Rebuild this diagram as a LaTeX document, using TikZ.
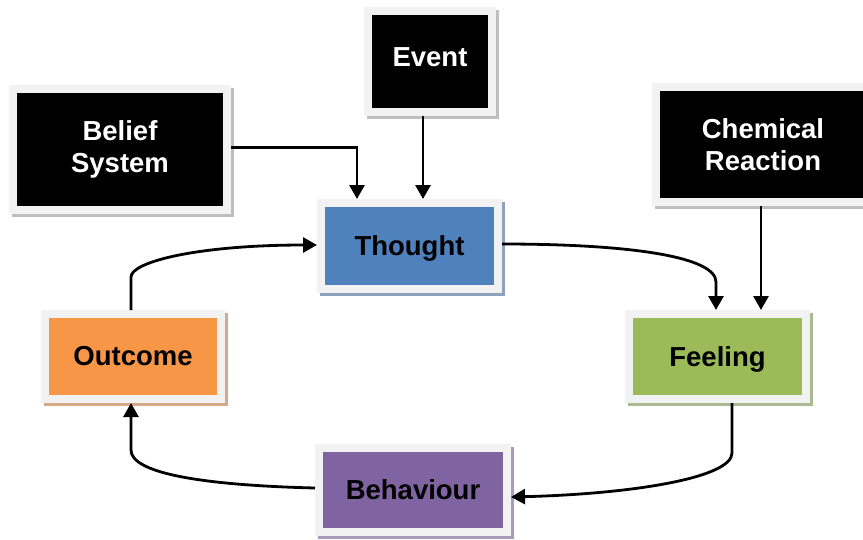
\documentclass[tikz,border=0pt]{standalone}
\usepackage{fontspec}
\setsansfont{Liberation Sans}
\usetikzlibrary{arrows.meta,calc}
\definecolor{framegray}{HTML}{F2F2F2}
\definecolor{thoughtblue}{HTML}{4F81BD}
\definecolor{feelinggreen}{HTML}{9BBB59}
\definecolor{behavpurple}{HTML}{8064A2}
\definecolor{outcomeorange}{HTML}{F79646}
\definecolor{shgray}{HTML}{BFBFBF}
\definecolor{shblue}{HTML}{8FA2BC}
\definecolor{shgreen}{HTML}{ABBA92}
\definecolor{shpurple}{HTML}{A99BBB}
\definecolor{shorange}{HTML}{D6A88A}
\tikzset{
  every picture/.style={line width=0.75pt},
  box/.style={draw=framegray, line width=8pt, inner sep=0pt, align=center,
    font=\sffamily\bfseries\fontsize{27.5}{32}\selectfont,
    preaction={draw=#1, fill=#1, transform canvas={xshift=3pt,yshift=-3pt}}},
  arr/.style={-{Triangle[length=14pt,width=15pt]}, line width=2.8pt},
}

\begin{document}
\begin{tikzpicture}[x=1pt,y=-1pt]
    \clip (0,0) rectangle (863,539);

    % Inputs
    \node[box=shgray, fill=black, text=white, minimum width=214pt, minimum height=121pt] (belief) at (120,149.5) {Belief\\System};
    \node[box=shgray, fill=black, text=white, minimum width=124pt, minimum height=101pt, text depth=9pt] (event) at (430,61.5) {Event};
    \node[box=shgray, fill=black, text=white, minimum width=214pt, minimum height=115pt] (chem) at (763,144.5) {Chemical\\Reaction};

    % Cycle
    \node[box=shblue, fill=thoughtblue, minimum width=177pt, minimum height=86pt, text depth=0pt] (thought) at (409.5,246) {Thought};
    \node[box=shgreen, fill=feelinggreen, minimum width=177pt, minimum height=85pt, text depth=0pt] (feeling) at (717.5,356.5) {Feeling};
    \node[box=shpurple, fill=behavpurple, minimum width=188pt, minimum height=84pt] (behav) at (413,490) {Behaviour};
    \node[box=shorange, fill=outcomeorange, minimum width=176pt, minimum height=85pt] (outcome) at (133,356.5) {Outcome};

    % Inputs into the cycle
    \draw[arr] ($(belief.east)+(0,-2)$) -| ($(thought.north)+(-52.5,0)$);
    \draw[arr] ($(event.south)+(-7,0)$) -- ($(thought.north)+(13.5,0)$);
    \draw[arr] ($(chem.south)+(-2,0)$) -- ($(feeling.north)+(43.5,0)$);

    % Cycle connectors
    \draw[arr] ($(thought.east)+(0,-2)$) .. controls +(130,0) and +(0,-25) .. ($(feeling.north)+(-1.5,-28)$) -- ($(feeling.north)+(-1.5,0)$);
    \draw[arr] ($(feeling.south)+(14.5,0)$) -- ++(0,50) .. controls +(0,25) and +(120,-3) .. ($(behav.east)+(0,7)$);
    \draw[arr] ($(behav.west)+(0,-2)$) .. controls +(-120,-3) and +(0,22) .. ($(outcome.south)+(-2,47)$) -- ($(outcome.south)+(-2,0)$);
    \draw[arr] ($(outcome.north)+(-2,0)$) -- ++(0,-33) .. controls +(0,-15) and +(-120,0) .. ($(thought.west)+(0,-1)$);
\end{tikzpicture}
\end{document}
